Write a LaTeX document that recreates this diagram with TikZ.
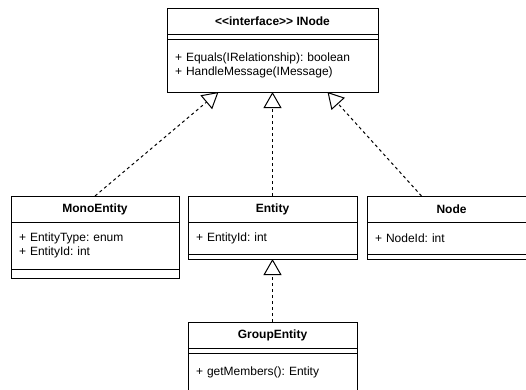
\documentclass[tikz,border=0pt]{standalone}
\usepackage{fontspec}
\setmainfont{Liberation Sans}
\usetikzlibrary{arrows.meta, positioning}
\frenchspacing

\begin{document}
\begin{tikzpicture}[
    x=1pt, y=-1pt,
    every node/.style={draw, fill=white, line width=1pt, outer sep=0pt, inner sep=0pt,
        font=\fontsize{12}{14}\selectfont},
    head/.style={minimum width=#1, minimum height=26, anchor=north west,
        font=\fontsize{12}{14}\selectfont\bfseries},
    section/.style={minimum width=#1},
    members/.style={text width=#1, align=left, inner xsep=8},
    realize/.style={line width=1pt, dash pattern=on 3pt off 3pt,
        -{Triangle[open, length=16pt, width=18pt, line width=1pt, fill=white]}}
]
\useasboundingbox (0,0) rectangle (526,389);

% Interface
\node[head=211] (inodeHead) at (167,8)
    {\textless\kern0pt\textless interface\textgreater\kern0pt\textgreater{} INode};
\node[section=211, minimum height=5, below=0pt of inodeHead] (inodeAttrs) {};
\node[members=195, minimum height=53, below=0pt of inodeAttrs] (inodeOps)
    {+ Equals(IRelationship): boolean\\+ HandleMessage(IMessage)};

% MonoEntity
\node[head=168] (monoHead) at (11,196) {MonoEntity};
\node[members=152, minimum height=47, below=0pt of monoHead] (monoAttrs)
    {+ EntityType: enum\\+ EntityId: int};
\node[section=168, minimum height=9, below=0pt of monoAttrs] (monoOps) {};

% Entity
\node[head=169] (entityHead) at (188,196) {Entity};
\node[members=153, minimum height=32, below=0pt of entityHead] (entityAttrs) {+ EntityId: int};
\node[section=169, minimum height=5, below=0pt of entityAttrs] (entityOps) {};

% Node
\node[head=169] (nodeHead) at (367,196) {Node};
\node[members=153, minimum height=32, below=0pt of nodeHead] (nodeAttrs) {+ NodeId: int};
\node[section=169, minimum height=5, below=0pt of nodeAttrs] (nodeOps) {};

% GroupEntity
\node[head=169] (groupHead) at (188,322) {GroupEntity};
\node[section=169, minimum height=5, below=0pt of groupHead] (groupAttrs) {};
\node[members=153, minimum height=38, below=0pt of groupAttrs] (groupOps) {+ getMembers(): Entity};

% Realizations
\draw[realize] (monoHead.north) -- ([xshift=-54]inodeOps.south);
\draw[realize] (entityHead.north) -- (inodeOps.south);
\draw[realize] ([xshift=-30]nodeHead.north) -- ([xshift=55]inodeOps.south);
\draw[realize] (groupHead.north) -- (entityOps.south);

\end{tikzpicture}
\end{document}
